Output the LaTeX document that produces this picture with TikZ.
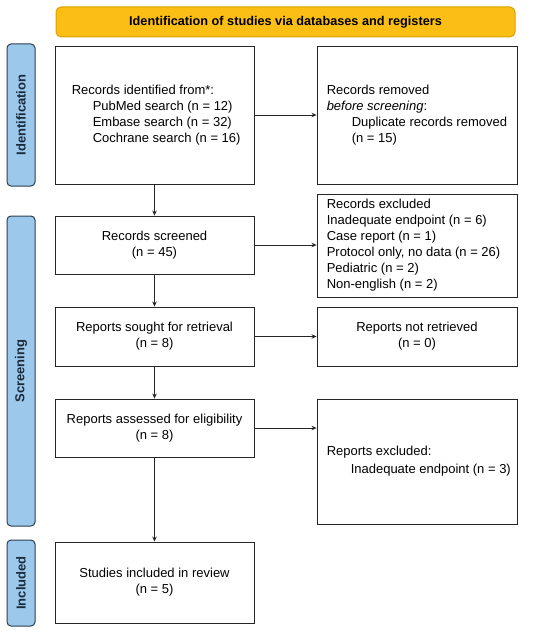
\documentclass[tikz,border=0pt]{standalone}
\usepackage{fontspec}
\setmainfont{Liberation Sans}
\usetikzlibrary{arrows.meta}
\definecolor{bannerfill}{HTML}{FBBE14}
\definecolor{bannerdraw}{HTML}{D9A300}
\definecolor{sidefill}{HTML}{9CC8EC}
\definecolor{sidedraw}{HTML}{2C3E50}
\definecolor{sidetext}{HTML}{1B2A3A}
\begin{document}
\begin{tikzpicture}[x=1pt,y=-1pt,
  every node/.style={font=\fontsize{13}{16}\selectfont},
  box/.style={draw=black!85, line width=0.9pt, fill=white, inner sep=0pt},
  cbox/.style={box, align=center},
  ltext/.style={anchor=west, align=left, inner sep=0pt},
  side/.style={draw=sidedraw, line width=1pt, fill=sidefill, rounded corners=4pt,
    rotate=90, minimum height=28pt, inner sep=0pt, text=sidetext,
    font=\fontsize{13}{16}\selectfont\bfseries},
  arr/.style={draw=black!85, line width=0.8pt, -{Stealth[length=5pt,width=4.5pt]}}
]
\useasboundingbox (0,0) rectangle (550,634);

% banner
\node[draw=bannerdraw, line width=1pt, fill=bannerfill, rounded corners=5pt,
  minimum width=459pt, minimum height=30pt, inner sep=0pt,
  font=\fontsize{12.7}{16}\selectfont\bfseries] (ban) at (285.5,22)
  {Identification of studies via databases and registers};

% side labels
\node[side, minimum width=142pt] (sid) at (21,115) {Identification};
\node[side, minimum width=310pt] (sscr) at (21,371) {Screening};
\node[side, minimum width=86pt] (sinc) at (21,583) {Included};

% left column
\node[box, minimum width=199pt, minimum height=138pt] (A) at (154.5,115) {};
\node[ltext] (At) at ([xshift=17pt]A.west)
  {Records identified from*:\\
   \hspace*{21pt}PubMed search (n = 12)\\
   \hspace*{21pt}Embase search (n = 32)\\
   \hspace*{21pt}Cochrane search (n = 16)};
\node[cbox, minimum width=199pt, minimum height=58pt] (C) at (154.5,245)
  {Records screened\\(n = 45)};
\node[cbox, minimum width=199pt, minimum height=59pt] (E) at (154.5,336.5)
  {Reports sought for retrieval\\(n = 8)};
\node[cbox, minimum width=199pt, minimum height=58pt] (G) at (154.5,428)
  {Reports assessed for eligibility\\(n = 8)};
\node[cbox, minimum width=199pt, minimum height=81pt] (I) at (154.5,582.5)
  {Studies included in review\\(n = 5)};

% right column
\node[box, minimum width=200pt, minimum height=138pt] (B) at (417,115) {};
\node[ltext] (Bt) at ([xshift=10pt]B.west)
  {Records removed\\
   \textit{before screening}:\\
   \hspace*{25pt}Duplicate records removed\\
   \hspace*{25pt}(n = 15)};
\node[box, minimum width=200pt, minimum height=103pt] (D) at (417,245.5) {};
\node[ltext] (Dt) at ([xshift=10pt]D.west)
  {Records excluded\\
   Inadequate endpoint (n = 6)\\
   Case report (n = 1)\\
   Protocol only, no data (n = 26)\\
   Pediatric (n = 2)\\
   Non-english (n = 2)};
\node[cbox, minimum width=200pt, minimum height=59pt] (F) at (417,336.5)
  {Reports not retrieved\\(n = 0)};
\node[box, minimum width=200pt, minimum height=125pt] (H) at (417,461.5) {};
\node[ltext] (Ht) at ([xshift=10pt]H.west)
  {Reports excluded:\\[2pt]
   \hspace*{24pt}Inadequate endpoint (n = 3)};

% arrows
\draw[arr] (A) -- (C);
\draw[arr] (C) -- (E);
\draw[arr] (E) -- (G);
\draw[arr] (G) -- (I);
\draw[arr] (A.east) -- (A.east -| B.west);
\draw[arr] (C.east) -- (C.east -| D.west);
\draw[arr] (E.east) -- (E.east -| F.west);
\draw[arr] (G.east) -- (G.east -| H.west);
\end{tikzpicture}
\end{document}
